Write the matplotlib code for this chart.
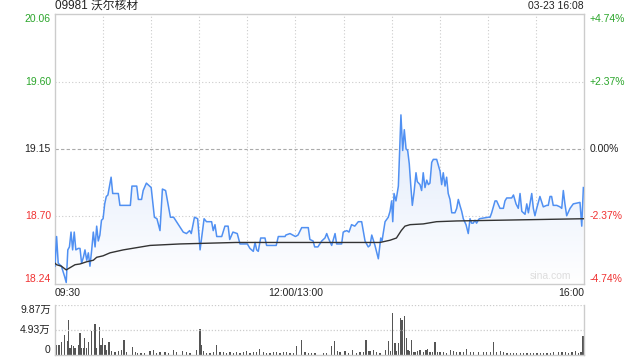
import numpy as np
import matplotlib
matplotlib.use('Agg')
import matplotlib.pyplot as plt

plt.rcParams['font.family'] = ['Liberation Sans', 'Noto Sans CJK SC', 'DejaVu Sans']

# 昨收 / 价格刻度
prev_close = 19.15
y_ticks = [20.06, 19.60, 19.15, 18.70, 18.24]
pct_labels = ['+4.74%', '+2.37%', '0.00%', '-2.37%', '-4.74%']
x_labels = ['09:30', '12:00/13:00', '16:00']
x_label_pos = [0, 150, 330]   # 交易分钟

# 分时价格 (分钟, 价格)
price_t = [0, 1, 2, 4, 6, 7, 8, 9, 10, 11, 12, 13, 14.5, 15.6, 16.6, 17.7, 18.7, 19.8, 20.8, 21.8,
           22.9, 23.9, 25, 26, 27, 28, 29, 30, 31, 32, 33, 35, 36, 39.5, 40.5, 47, 48, 51, 52, 54,
           55, 57, 60, 62, 63.6, 65.5, 67, 69, 72, 74, 77, 80, 82, 84, 85, 87, 89, 90.5, 93, 94.5,
           97.7, 98.7, 99.8, 100.9, 104, 106, 108, 109, 111, 113.7, 115.4, 120, 121.6, 123.7, 124.8, 125.8, 126.8, 128.3, 131, 132,
           138, 139.3, 143.5, 144, 146.6, 150, 151.6, 153.9, 158, 159, 161, 162, 164, 166.4, 168.4, 169.5, 170.5, 172.6, 174.7, 175.7,
           178.8, 179.8, 182, 183.4, 185, 187, 189.2, 191.3, 193.4, 195.4, 196.5, 197.6, 199.6, 201.7, 203.2, 204, 205.9, 207.9, 209, 210,
           210.7, 211.5, 212.7, 214.2, 215.8, 216.9, 217.9, 219, 220, 221, 221.9, 222.9, 224, 225.2, 226, 227.7, 228.7, 229.7, 230.8, 231.9,
           232.9, 233.9, 235, 236, 238.1, 240.2, 241.2, 242.2, 243.3, 244.3, 245.3, 246.4, 247.5, 249.5, 250.6, 251.6, 252.6, 253.7, 254.7, 256.4,
           257.8, 258.9, 259.9, 260.9, 262, 263, 264, 264.7, 270.3, 271.4, 272.4, 274.5, 275.5, 277.6, 279.7, 280.7, 281.8, 284.9, 286, 287.6,
           289, 290.1, 291.2, 293.2, 294.3, 295.3, 296.3, 297.4, 298.4, 299.4, 300.5, 302.5, 304.6, 306.7, 307.7, 308.8, 309.8, 310.8, 313, 315,
           316.1, 317.1, 318.1, 319.2, 321.3, 323.3, 327.5, 328.6, 329.6]
price_v = [18.36, 18.56, 18.38, 18.36, 18.29, 18.25, 18.47, 18.49, 18.59, 18.47, 18.59, 18.47, 18.48, 18.48, 18.38, 18.42, 18.47, 18.40, 18.45, 18.36,
           18.47, 18.59, 18.49, 18.63, 18.53, 18.57, 18.67, 18.68, 18.78, 18.83, 18.84, 18.96, 18.85, 18.85, 18.77, 18.77, 18.90, 18.90, 18.81, 18.81,
           18.87, 18.92, 18.89, 18.69, 18.68, 18.60, 18.88, 18.87, 18.69, 18.69, 18.64, 18.59, 18.58, 18.60, 18.58, 18.69, 18.68, 18.47, 18.68, 18.66,
           18.66, 18.60, 18.64, 18.56, 18.56, 18.63, 18.63, 18.54, 18.59, 18.58, 18.51, 18.51, 18.48, 18.46, 18.52, 18.47, 18.46, 18.55, 18.55, 18.50,
           18.50, 18.56, 18.56, 18.57, 18.58, 18.56, 18.57, 18.62, 18.62, 18.54, 18.53, 18.49, 18.49, 18.53, 18.55, 18.58, 18.55, 18.50, 18.58, 18.51,
           18.51, 18.59, 18.60, 18.59, 18.64, 18.63, 18.66, 18.66, 18.53, 18.49, 18.50, 18.57, 18.50, 18.41, 18.55, 18.53, 18.66, 18.69, 18.73, 18.80,
           18.66, 18.85, 18.80, 18.90, 19.38, 19.14, 19.28, 19.15, 19.14, 19.05, 18.91, 18.77, 18.86, 18.99, 18.93, 18.91, 18.87, 18.99, 18.89, 18.94,
           18.91, 18.92, 19.06, 19.08, 19.08, 19.00, 18.91, 18.99, 18.90, 18.96, 18.85, 18.81, 18.72, 18.72, 18.75, 18.81, 18.77, 18.73, 18.68, 18.64,
           18.58, 18.68, 18.65, 18.65, 18.67, 18.65, 18.67, 18.68, 18.69, 18.69, 18.72, 18.80, 18.80, 18.75, 18.75, 18.80, 18.82, 18.82, 18.84, 18.78,
           18.75, 18.85, 18.73, 18.71, 18.78, 18.72, 18.78, 18.85, 18.75, 18.70, 18.75, 18.83, 18.76, 18.77, 18.77, 18.83, 18.83, 18.77, 18.77, 18.76,
           18.75, 18.87, 18.78, 18.70, 18.75, 18.78, 18.79, 18.63, 18.89]

# 均价线
avg_t = [0, 1, 4, 7, 12.5, 15.6, 19.8, 23.9, 26, 30, 34.3, 42.6, 59.3, 78, 113, 202.7, 209, 213, 216, 218.3,
         221.5, 229.7, 238, 250.6, 277.6, 329.6]
avg_v = [18.38, 18.37, 18.36, 18.335, 18.37, 18.375, 18.39, 18.40, 18.42, 18.43, 18.45, 18.47, 18.50, 18.51, 18.52, 18.52, 18.535, 18.55, 18.60, 18.63,
         18.64, 18.645, 18.66, 18.665, 18.67, 18.68]

# 成交量 (分钟, 万股)
vol_t = [0, 1, 2.5, 4, 6, 7.7, 8.3, 9.4, 10.4, 11.4, 12.5, 14.6, 15.6, 16.6, 17.7, 18.5, 19.8, 20.8, 22.9, 25,
         26, 27.6, 28.7, 29.7, 31.2, 32.2, 33.7, 35.4, 37.4, 39.5, 41.6, 43, 44.7, 48.3, 50, 51.6, 53.7, 55.7, 59.3, 61.3,
         63.4, 65.5, 68.6, 70.7, 73.8, 75.9, 79.6, 82.1, 84.2, 88.4, 90.5, 91.5, 92.5, 94.6, 96.7, 98.8, 100.9, 103, 105, 107.1,
         109.2, 111.3, 113.3, 115.4, 117.5, 119.6, 121.6, 123.7, 125.8, 127.5, 130, 132, 134.1, 136.2, 138.3, 140.4, 142.5, 144.6, 146.6, 148.7,
         150.8, 153.9, 156, 158, 160, 162.2, 167.4, 169.5, 172.6, 174.2, 176.1, 177.8, 180.9, 183, 185.5, 188.2, 190.3, 192.4, 194, 195.5,
         196.5, 198.6, 200.7, 202.8, 206.3, 207.9, 209.4, 210.7, 212.1, 213.1, 214.2, 215.6, 216.5, 217.9, 219.4, 220.2, 221.1, 222.5, 223.6, 224.6,
         226.1, 227.7, 229.8, 231.5, 232.3, 234, 235.7, 237, 238.5, 240.2, 242.2, 244.3, 246.8, 248.5, 250.6, 252.7, 254.8, 256.9, 259, 261,
         264.2, 267.3, 269.4, 271.5, 273.4, 275.6, 277.7, 279.8, 281.9, 284, 286.1, 288.1, 290.2, 292.3, 294.4, 296.5, 298.6, 300.7, 302.8, 304.9,
         306.9, 309, 311.1, 314.2, 316.3, 318.4, 320.5, 322.6, 324.6, 326.7, 328.2, 329.3]
vol_v = [9.87, 2.0, 2.0, 2.6, 3.95, 2.8, 6.9, 1.3, 2.0, 1.7, 1.3, 2.0, 4.3, 1.3, 1.3, 3.3, 1.3, 2.6, 4.7, 6.05,
         1.3, 5.6, 2.0, 3.3, 2.0, 1.0, 2.6, 0.8, 0.5, 0.8, 1.0, 2.96, 0.6, 1.64, 0.5, 0.3, 0.4, 0.3, 0.8, 1.0,
         0.4, 0.5, 0.6, 0.4, 1.0, 0.5, 0.8, 0.5, 0.3, 1.0, 5.1, 2.0, 0.8, 0.4, 0.3, 0.5, 2.0, 0.5, 0.6, 0.4,
         0.5, 0.3, 0.6, 0.4, 0.5, 0.7, 0.4, 0.6, 0.5, 1.2, 0.5, 0.4, 0.3, 0.5, 0.6, 0.4, 0.5, 0.5, 0.4, 0.3,
         1.8, 2.96, 0.5, 0.4, 0.3, 0.4, 0.3, 0.4, 1.8, 2.76, 0.8, 0.5, 0.8, 0.4, 1.0, 0.4, 0.5, 0.6, 3.0, 0.8,
         0.8, 1.0, 0.5, 0.4, 1.0, 2.76, 0.8, 8.35, 2.4, 0.8, 2.4, 7.24, 7.0, 7.7, 3.3, 1.0, 0.8, 3.0, 0.6, 0.5,
         0.7, 0.9, 0.6, 1.0, 1.2, 0.6, 0.5, 2.6, 0.5, 0.6, 0.5, 0.4, 1.0, 0.8, 0.5, 0.6, 0.5, 1.2, 0.6, 0.5,
         0.5, 0.5, 0.6, 0.5, 2.6, 0.6, 0.8, 0.5, 0.4, 0.3, 0.4, 0.3, 0.4, 0.3, 0.4, 0.3, 0.4, 0.4, 0.3, 0.4,
         0.3, 0.4, 0.5, 0.6, 0.5, 0.5, 0.4, 0.6, 0.8, 0.4, 0.5, 3.75]
vol_ticks = [9.87, 4.93, 0]
vol_labels = ['9.87万', '4.93万', '0']

green = '#2aa52a'
red = '#f03232'
border = '#cccccc'
line_blue = '#5090f2'

fig = plt.figure(figsize=(6.4, 3.6), dpi=100)
ax = fig.add_axes([55/640, 1-284/360, 529/640, 270/360])
axv = fig.add_axes([55/640, 1-355/360, 529/640, 50/360])

# 主图
ax.set_xlim(0, 330)
ax.set_ylim(y_ticks[-1], y_ticks[0])
for s in ax.spines.values():
    s.set_color(border)
    s.set_linewidth(1)
ax.set_xticks([])
ax.set_yticks([])

for t in range(30, 330, 30):
    ax.axvline(t, color=border, lw=0.8, ls=(0, (1, 2)), zorder=0)
for v in y_ticks[1:-1]:
    if v == prev_close:
        ax.axhline(v, color='#aaaaaa', lw=0.8, ls=(0, (3, 2)), zorder=0)
    else:
        ax.axhline(v, color=border, lw=0.8, ls=(0, (1, 2)), zorder=0)

# 渐变填充
fill = ax.fill_between(price_t, price_v, y_ticks[-1], color='none')
grad = np.linspace(1, 0, 256).reshape(-1, 1)
cmap = matplotlib.colors.LinearSegmentedColormap.from_list('g', ['#ffffff', '#dfe9fb'])
img = ax.imshow(grad, cmap=cmap, aspect='auto', extent=[0, 330, y_ticks[-1], max(price_v)],
                origin='upper', zorder=1, vmin=0, vmax=1)
img.set_clip_path(fill.get_paths()[0], transform=ax.transData)
ax.set_xlim(0, 330)
ax.set_ylim(y_ticks[-1], y_ticks[0])

ax.plot(price_t, price_v, color=line_blue, lw=1.1, zorder=3)
ax.plot(avg_t, avg_v, color='#333333', lw=1.0, zorder=4)

# 刻度文字
for i, v in enumerate(y_ticks):
    c = green if v > prev_close else (red if v < prev_close else '#222222')
    va = 'top' if i == 0 else ('bottom' if i == len(y_ticks) - 1 else 'center')
    ax.annotate('%.2f' % v, xy=(0, v), xycoords=('axes fraction', 'data'), xytext=(-3, 0),
                textcoords='offset points', ha='right', va=va, fontsize=7.5, color=c)
    ax.annotate(pct_labels[i], xy=(1, v), xycoords=('axes fraction', 'data'), xytext=(4, 0),
                textcoords='offset points', ha='left', va=va, fontsize=7.5, color=c)

has = ['left', 'center', 'right']
for lab, pos, ha in zip(x_labels, x_label_pos, has):
    ax.annotate(lab, xy=(pos, 0), xycoords=('data', 'axes fraction'), xytext=(0, -3),
                textcoords='offset points', ha=ha, va='top', fontsize=7.5, color='#222222')

ax.text(0, 1.01, '09981 沃尔核材', transform=ax.transAxes, ha='left', va='bottom',
        fontsize=8.5, color='#222222')
ax.text(1, 1.01, '03-23 16:08', transform=ax.transAxes, ha='right', va='bottom',
        fontsize=7.5, color='#222222')
ax.text(0.975, 0.01, 'sina.com', transform=ax.transAxes, ha='right', va='bottom',
        fontsize=7.5, color='#dddddd', zorder=5)

# 成交量
axv.set_xlim(0, 330)
axv.set_ylim(0, vol_ticks[0])
axv.bar(vol_t, vol_v, width=0.8, color='#555555', align='center')
for k, s in axv.spines.items():
    s.set_color(border)
    s.set_linewidth(1)
axv.spines['top'].set_visible(False)
axv.axhline(vol_ticks[0], color=border, lw=0.9, ls=(0, (1, 1.5)))
axv.axhline(vol_ticks[1], color=border, lw=0.9, ls=(0, (1, 1.5)))
axv.set_xticks([])
axv.set_yticks([])
for i, (v, lab) in enumerate(zip(vol_ticks, vol_labels)):
    va = 'top' if i == 0 else ('bottom' if i == len(vol_ticks) - 1 else 'center')
    axv.annotate(lab, xy=(0, v), xycoords=('axes fraction', 'data'), xytext=(-3, 0),
                 textcoords='offset points', ha='right', va=va, fontsize=7.5, color='#222222')

fig.savefig('out.png', dpi=100)
